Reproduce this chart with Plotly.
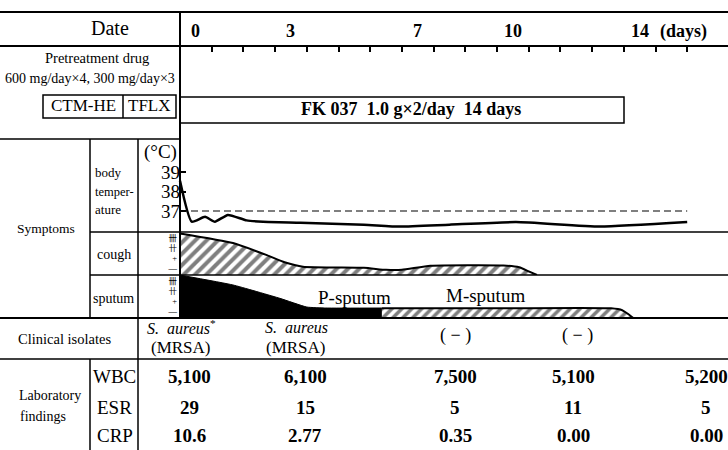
import plotly.graph_objects as go

# ---------------- data ----------------
day_ticks = list(range(1, 17))
day_labels = [0, 3, 7, 10, 14]

temp_day = [0, 0.37, 0.79, 1.1, 1.51, 2.1, 2.62, 3.8, 5.8, 6.94, 8.5, 10.6, 13.25, 16.0]
temp_val = [38.55, 36.45, 36.7, 36.45, 36.8, 36.52, 36.45, 36.4, 36.3, 36.2, 36.3, 36.43, 36.2, 36.43]
ref_days = [0, 16]
ref_temp = 37

cough_day = [0, 1.67, 2.74, 3.3, 3.88, 5.8, 6.5, 7.0, 7.9, 10.2, 10.7, 11.0, 11.26]
cough_lvl = [3.45, 2.5, 1.3, 0.6, 0.16, 0.05, -0.15, -0.15, 0.25, 0.28, 0.1, -0.3, -0.66]

sputum_p_day = [0, 1.67, 3.15, 4.0, 4.6, 6.37]
sputum_p_lvl = [3.6, 2.6, 1.25, 0.37, 0.27, 0.27]

sputum_m_day = [6.37, 10.0, 13.6, 13.95, 14.1, 14.3]
sputum_m_lvl = [0.24, 0.24, 0.24, 0.05, -0.26, -0.74]

symptom_levels = [0, 1, 2, 3]
symptom_marks = ['—', '+', '卄', '卌']

isolates_top = ['<i>S.  aureus</i><sup>*</sup>', '<i>S.  aureus</i>', '( − )', '( − )']
isolates_bot = ['(MRSA)', '(MRSA)', '', '']

lab_names = ['WBC', 'ESR', 'CRP']
wbc = ['5,100', '6,100', '7,500', '5,100', '5,200']
esr = ['29', '15', '5', '11', '5']
crp = ['10.6', '2.77', '0.35', '0.00', '0.00']

# ---------------- layout helpers ----------------
W, H = 728, 450
PX_PER_DAY = 31.7
X_ORIGIN = 180
SERIF = 'Liberation Serif, Times New Roman, serif'
MARKS_FONT = 'Liberation Serif, Noto Sans CJK JP'


def px(x):
    return x / W


def py(y):
    return 1 - y / H


def axis_range(top, bot, ref_px, ref_val, px_per_unit):
    return [ref_val - (bot - ref_px) / px_per_unit, ref_val + (ref_px - top) / px_per_unit]


x_range = [(0 - X_ORIGIN) / PX_PER_DAY, (W - X_ORIGIN) / PX_PER_DAY]
temp_range = axis_range(139, 232, 211, 37, 19.5)
cough_range = axis_range(232, 275, 268.3, 0, 10.1)
sput_range = axis_range(275, 318, 310.7, 0, 9.9)

fig = go.Figure()

# body temperature
fig.add_trace(go.Scatter(x=temp_day, y=temp_val, mode='lines', xaxis='x', yaxis='y',
                         line=dict(color='black', width=2.5, shape='spline', smoothing=0.5),
                         hoverinfo='skip', showlegend=False))
fig.add_trace(go.Scatter(x=ref_days, y=[ref_temp] * len(ref_days), mode='lines', xaxis='x', yaxis='y',
                         line=dict(color='black', width=1.2, dash='7px,4px'),
                         hoverinfo='skip', showlegend=False))

hatch = dict(shape='/', size=8, solidity=0.5, fgcolor='black', bgcolor='white')

# cough
fig.add_trace(go.Scatter(x=[cough_day[0], cough_day[-1]], y=[cough_range[0]] * 2, mode='lines',
                         xaxis='x', yaxis='y2', line=dict(width=0, color='black'),
                         hoverinfo='skip', showlegend=False))
fig.add_trace(go.Scatter(x=cough_day, y=cough_lvl, mode='lines', xaxis='x', yaxis='y2',
                         fill='tonexty', fillpattern=hatch,
                         line=dict(color='black', width=2, shape='spline', smoothing=0.5),
                         hoverinfo='skip', showlegend=False))

# sputum P (black)
fig.add_trace(go.Scatter(x=[sputum_p_day[0], sputum_p_day[-1]], y=[sput_range[0]] * 2, mode='lines',
                         xaxis='x', yaxis='y3', line=dict(width=0, color='black'),
                         hoverinfo='skip', showlegend=False))
fig.add_trace(go.Scatter(x=sputum_p_day, y=sputum_p_lvl, mode='lines', xaxis='x', yaxis='y3',
                         fill='tonexty', fillcolor='black',
                         line=dict(color='black', width=1, shape='spline', smoothing=0.4),
                         hoverinfo='skip', showlegend=False))
# sputum M (hatched)
fig.add_trace(go.Scatter(x=[sputum_m_day[0], sputum_m_day[-1]], y=[sput_range[0]] * 2, mode='lines',
                         xaxis='x', yaxis='y3', line=dict(width=0, color='black'),
                         hoverinfo='skip', showlegend=False))
fig.add_trace(go.Scatter(x=sputum_m_day, y=sputum_m_lvl, mode='lines', xaxis='x', yaxis='y3',
                         fill='tonexty', fillpattern=dict(shape='/', size=7, solidity=0.5,
                                                          fgcolor='black', bgcolor='white'),
                         line=dict(color='black', width=2, shape='spline', smoothing=0.6),
                         hoverinfo='skip', showlegend=False))

# ---------------- table structure ----------------
shapes = []


def hline(x0, x1, y, w=1.5):
    shapes.append(dict(type='line', xref='paper', yref='paper', x0=px(x0), x1=px(x1),
                       y0=py(y), y1=py(y), line=dict(color='black', width=w)))


def vline(x, y0, y1, w=1.5):
    shapes.append(dict(type='line', xref='paper', yref='paper', x0=px(x), x1=px(x),
                       y0=py(y0), y1=py(y1), line=dict(color='black', width=w)))


def rect(x0, y0, x1, y1, w=1.5):
    shapes.append(dict(type='rect', xref='paper', yref='paper', x0=px(x0), x1=px(x1),
                       y0=py(y0), y1=py(y1), line=dict(color='black', width=w)))


hline(0, 728, 12, 2)
hline(0, 728, 46, 2)
hline(0, 180, 139)
hline(90, 728, 232)
hline(90, 728, 275)
hline(0, 728, 318, 2)
hline(0, 728, 359)
vline(180, 12, 318, 2)
vline(90, 139, 318)
vline(138, 139, 450)
vline(90, 359, 450)
rect(180, 97, 624, 123)
rect(43, 95, 176, 118)
vline(123, 95, 118)

# ---------------- text ----------------
ann = []


def T(text, x, y, size, xanchor='center', family=SERIF, xref='paper'):
    ann.append(dict(text=text, x=px(x) if xref == 'paper' else x, y=py(y), xref=xref, yref='paper',
                    showarrow=False, xanchor=xanchor, yanchor='middle',
                    font=dict(family=family, size=size, color='black')))


T('Date', 110, 28, 20)
for d in day_labels:
    T('<b>%d</b>' % d, d + 0.5, 31, 18, xref='x')
T('<b>(days)</b>', 658, 31, 18, xanchor='left')
T('Pretreatment drug', 97, 58, 14.5)
T('600 mg/day×4, 300 mg/day×3', 90, 78, 14)
T('CTM-HE', 83, 106, 17)
T('TFLX', 149, 106, 17)
T('<b>FK 037  1.0 g×2/day  14 days</b>', 411, 109, 18)
T('Symptoms', 46, 229, 13.5)
T('body', 93, 172, 13, 'left')
T('temper-', 93, 192, 12.5, 'left')
T('ature', 93, 209, 13, 'left')
T('(°C)', 160, 152, 19)
T('cough', 114, 254, 14)
T('sputum', 113, 298, 14)
T('P-sputum', 354, 297, 19)
T('M-sputum', 486, 295.5, 19)
T('Clinical isolates', 64, 339, 14.5)

iso_x = [181, 296, 455, 577]
for s, b, x in zip(isolates_top, isolates_bot, iso_x):
    if b:
        T(s, x, 327, 16)
        T(b, x, 347, 17)
    else:
        T(s, x, 335, 18)

T('Laboratory', 17, 395, 14, 'left')
T('findings', 18, 416, 14, 'left')
lab_y = [376, 407, 435]
lab_x = [189, 305, 455, 573, 706]
for name, yy, vals in zip(lab_names, lab_y, [wbc, esr, crp]):
    T(name, 114.5, yy, 19)
    for v, xx in zip(vals, lab_x):
        T('<b>%s</b>' % v, xx, yy, 19)

common = dict(showgrid=False, zeroline=False, showline=False, fixedrange=True)
fig.update_layout(
    width=W, height=H, margin=dict(l=0, r=0, t=0, b=0),
    paper_bgcolor='white', plot_bgcolor='white', showlegend=False,
    xaxis=dict(domain=[0, 1], range=x_range, anchor='free', position=py(46), side='bottom',
               ticks='outside', ticklen=5, tickwidth=1.5, tickcolor='black',
               tickvals=day_ticks, showticklabels=False, **common),
    yaxis=dict(domain=[py(232), py(139)], range=temp_range, anchor='free', position=px(180),
               ticks='inside', ticklen=5, tickwidth=1.5, tickcolor='black',
               tickvals=[37, 38, 39], ticktext=['37', '38', '39'],
               tickfont=dict(family=SERIF, size=19, color='black'), **common),
    yaxis2=dict(domain=[py(275), py(232)], range=cough_range, anchor='free', position=px(177),
                ticks='', tickvals=symptom_levels, ticktext=symptom_marks,
                tickfont=dict(family=MARKS_FONT, size=8.5, color='black'), **common),
    yaxis3=dict(domain=[py(318), py(275)], range=sput_range, anchor='free', position=px(177),
                ticks='', tickvals=symptom_levels, ticktext=symptom_marks,
                tickfont=dict(family=MARKS_FONT, size=8.5, color='black'), **common),
    shapes=shapes, annotations=ann,
)

fig.write_html('out.html', config={'displayModeBar': False},
               post_script="document.body.style.margin='0';document.body.style.overflow='hidden';")
